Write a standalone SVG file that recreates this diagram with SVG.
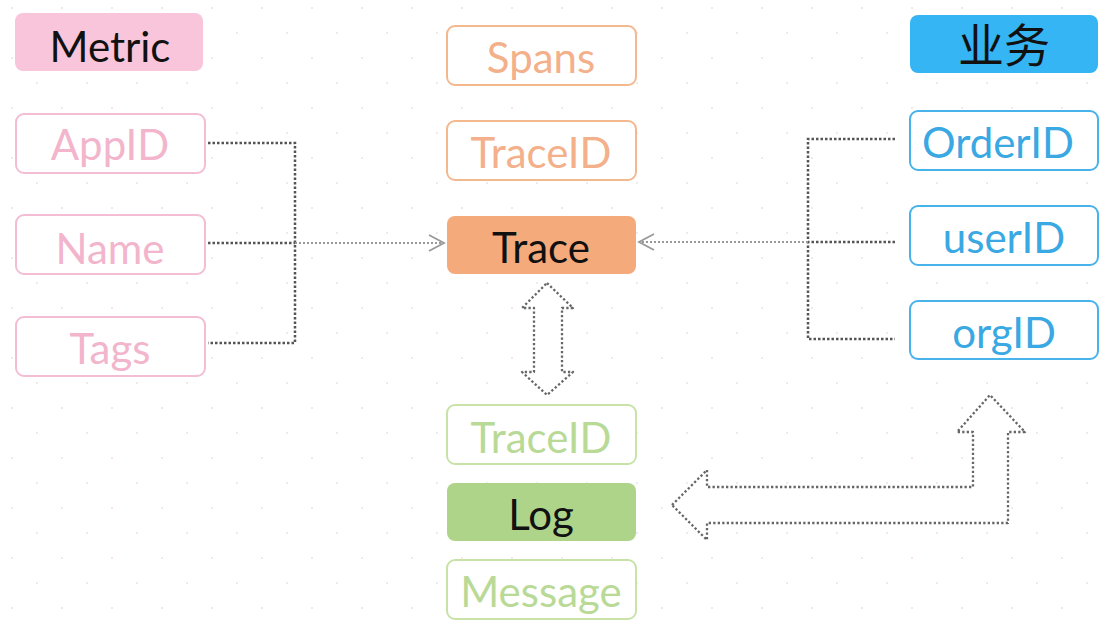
<svg xmlns="http://www.w3.org/2000/svg" width="1100" height="625" viewBox="0 0 1100 625">
<defs>
<style>
text{font-family:Lato,"Open Sans","Liberation Sans","Noto Sans CJK SC",sans-serif;font-size:42px;text-anchor:middle}
.box{stroke-width:2}
.pinkO{fill:#fff;stroke:#f3bdd3}
.pinkT{fill:#f2b5cc}
.orgO{fill:#fff;stroke:#f4b88f}
.orgT{fill:#f3b08a}
.grnO{fill:#fff;stroke:#c8e2a8}
.grnT{fill:#b9da97}
.bluO{fill:#fff;stroke:#47b3ea}
.bluT{fill:#3aa8e3}
.dark{fill:#111}
.conn{fill:none;stroke:#555;stroke-width:2.5;stroke-dasharray:2.5 2}
.connL{fill:none;stroke:#999;stroke-width:1.8;stroke-dasharray:2 2}
.head{fill:none;stroke:#999;stroke-width:1.8}
.hollow{fill:#fff;stroke:#666;stroke-width:2.3;stroke-dasharray:2.3 2.2;stroke-linejoin:round}
</style>
<pattern id="dots" width="50" height="50" patternUnits="userSpaceOnUse">
<circle cx="12" cy="8" r="1" fill="#f2e0d6"/>
<circle cx="37" cy="33" r="1" fill="#e6e6e6"/>
</pattern>
</defs>
<rect width="1100" height="625" fill="#fff"/>
<rect width="1100" height="625" fill="url(#dots)"/>

<g id="connectors">
<path class="conn" d="M208,143 H295 V343 H208 M208,243 H295"/>
<path class="connL" d="M295,243 H443"/>
<path class="head" d="M429,235 L444,243 L429,251"/>
<path class="conn" d="M895,139 H808 V339 H895 M895,242 H808"/>
<path class="connL" d="M808,242 H640"/>
<path class="head" d="M654,234 L639,242 L654,250"/>
<path id="trace-log-arrow" class="hollow" d="M547,283 L573,308 L562,308 L562,372 L573,372 L547,395 L522,372 L534,372 L534,308 L522,308 Z"/>
<path id="log-biz-arrow" class="hollow" d="M672,505 L707,470 L707,487 L973,487 L973,432 L957,432 L990,395 L1025,432 L1008,432 L1008,523 L707,523 L707,540 Z"/>
</g>

<g id="metric">
<rect x="15" y="13" width="188" height="58" rx="8" fill="#f8c5da"/>
<text x="110" y="62" class="dark">Metric</text>
</g>
<g id="appid">
<rect class="box pinkO" x="16" y="114" width="189" height="59" rx="8"/>
<text x="110" y="160" class="pinkT">AppID</text>
</g>
<g id="name">
<rect class="box pinkO" x="16" y="215" width="189" height="59" rx="8"/>
<text x="110" y="264" class="pinkT">Name</text>
</g>
<g id="tags">
<rect class="box pinkO" x="16" y="317" width="189" height="59" rx="8"/>
<text x="110" y="364" class="pinkT">Tags</text>
</g>

<g id="spans">
<rect class="box orgO" x="447" y="26" width="189" height="59" rx="8"/>
<text x="541" y="73" class="orgT">Spans</text>
</g>
<g id="trace-traceid">
<rect class="box orgO" x="447" y="121" width="189" height="59" rx="8"/>
<text x="541" y="168" class="orgT">TraceID</text>
</g>
<g id="trace">
<rect x="447" y="216" width="189" height="58" rx="8" fill="#f5aa7b"/>
<text x="541" y="263" class="dark">Trace</text>
</g>

<g id="log-traceid">
<rect class="box grnO" x="447" y="405" width="189" height="59" rx="8"/>
<text x="541" y="453" class="grnT">TraceID</text>
</g>
<g id="log">
<rect x="447" y="483" width="189" height="58" rx="8" fill="#aed48a"/>
<text x="541" y="530" class="dark">Log</text>
</g>
<g id="message">
<rect class="box grnO" x="447" y="560" width="189" height="59" rx="8"/>
<text x="541" y="607" class="grnT">Message</text>
</g>

<g id="business">
<rect x="910" y="15" width="188" height="58" rx="8" fill="#35b5f3"/>
<text x="1004" y="62" class="dark" style="font-size:46px">业务</text>
</g>
<g id="orderid">
<rect class="box bluO" x="910" y="111" width="188" height="59" rx="8"/>
<text x="998" y="158" class="bluT">OrderID</text>
</g>
<g id="userid">
<rect class="box bluO" x="910" y="206" width="188" height="59" rx="8"/>
<text x="1004" y="253" class="bluT">userID</text>
</g>
<g id="orgid">
<rect class="box bluO" x="910" y="301" width="188" height="58" rx="8"/>
<text x="1004" y="348" class="bluT">orgID</text>
</g>
</svg>
